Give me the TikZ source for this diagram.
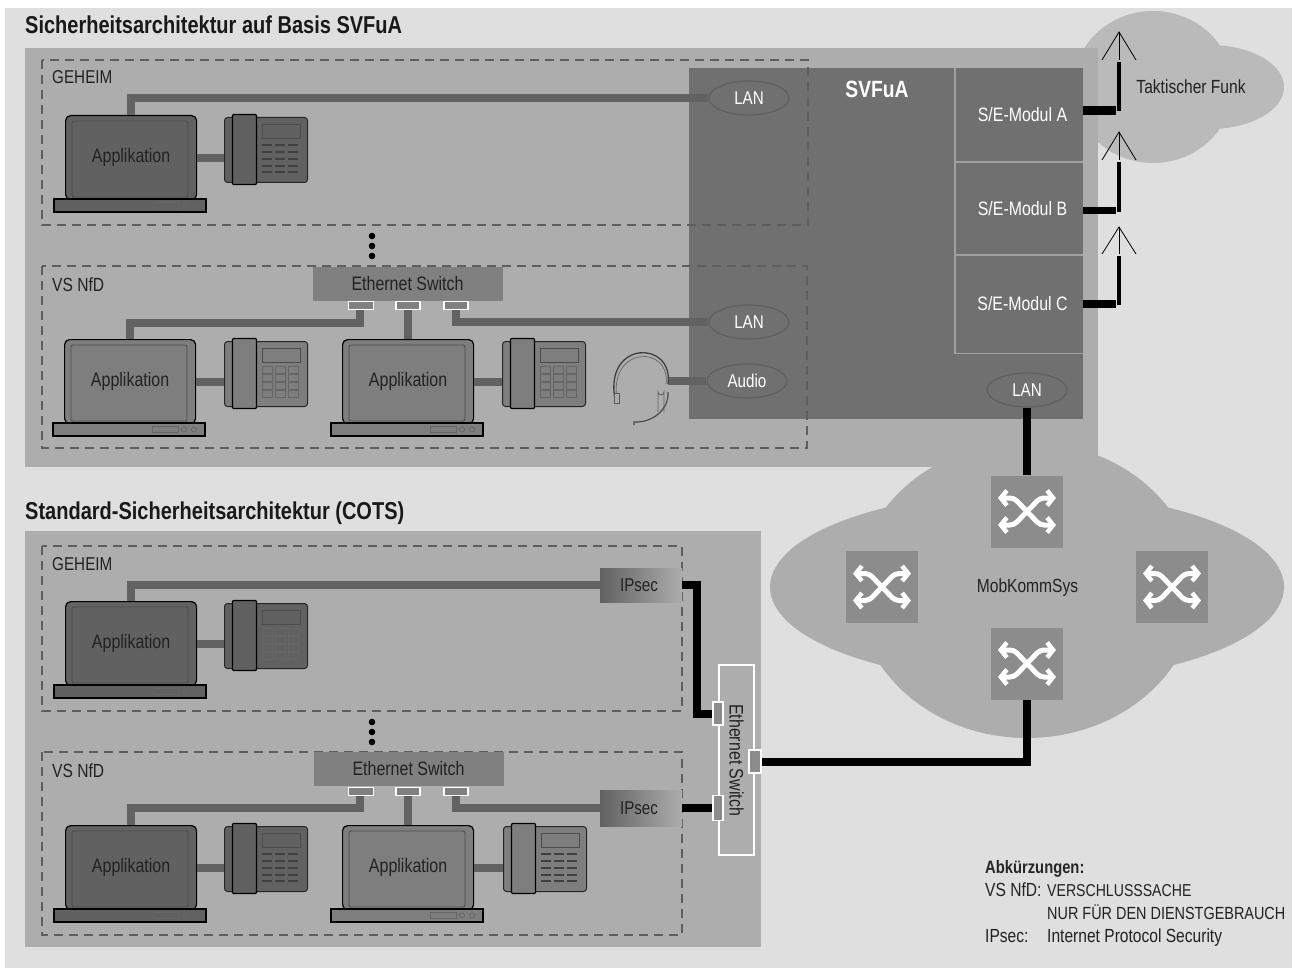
\documentclass[tikz,border=0pt]{standalone}
\usepackage{fontspec}
\setmainfont[FakeStretch=0.82]{Liberation Sans}
\usetikzlibrary{shapes.geometric,arrows.meta,calc}
\definecolor{bgc}{HTML}{DFDFDF}
\definecolor{panelc}{HTML}{ADADAD}
\definecolor{svc}{HTML}{707070}
\definecolor{cab}{HTML}{626262}
\definecolor{dashc}{HTML}{5E5E5E}
\definecolor{inkc}{HTML}{222222}
\definecolor{lapdark}{HTML}{616161}
\definecolor{lapmid}{HTML}{7E7E7E}
\definecolor{swc}{HTML}{808080}
\definecolor{icoc}{HTML}{8C8C8C}
\definecolor{modline}{HTML}{A0A0A0}
\tikzset{
  cable/.style={draw=cab,line width=8pt},
  wire/.style={draw=black,line width=8pt},
  zone/.style={draw=dashc,line width=1.2pt,dash pattern=on 9pt off 6pt},
  lbl/.style={font=\fontsize{19}{21}\selectfont,text=inkc,inner sep=0pt},
  caps/.style={font=\fontsize{17.2}{19}\selectfont,text=inkc,inner sep=0pt},
  lapbody/.style={draw=black,line width=1.2pt,rounded corners=5pt,minimum width=131pt,minimum height=84pt,inner sep=0pt,font=\fontsize{19.5}{21}\selectfont,text=inkc},
  phonebody/.style={draw=black!85,line width=1pt,rounded corners=3pt,minimum width=83pt,minimum height=65pt,inner sep=0pt},
  swbar/.style={fill=swc,minimum width=190pt,minimum height=34pt,inner sep=0pt,font=\fontsize{19.5}{21}\selectfont,text=inkc},
  hport/.style={draw=white,line width=1.1pt,fill=swc,minimum height=8pt,inner sep=0pt},
  vport/.style={draw=white,line width=1.1pt,fill=icoc,minimum width=10pt,inner sep=0pt},
  lan/.style={ellipse,draw=dashc,line width=1.1pt,fill=svc,minimum width=80pt,minimum height=34pt,inner sep=0pt,text=white,font=\fontsize{18.5}{20}\selectfont},
  modbox/.style={fill=svc,minimum width=128pt,inner sep=0pt,text=white,font=\fontsize{19.4}{21}\selectfont},
  modrule/.style={draw=modline,line width=1.4pt},
  ipsec/.style={left color=black!62,right color=panelc,minimum width=82pt,inner sep=0pt,font=\fontsize{18.5}{20}\selectfont,text=inkc},
  swsq/.style={fill=icoc,minimum size=72pt,inner sep=0pt},
  icoarrow/.style={draw=white,line width=5pt,rounded corners=4pt,arrows={{Straight Barb[length=6pt,width=15pt,line width=4.5pt]}-{Straight Barb[length=6pt,width=15pt,line width=4.5pt]}}},
  dotm/.style={fill=black},
}
% laptop: name, left x of the lid, top y, fill
\newcommand{\laptopicon}[4]{%
  \node[lapbody,fill=#4,anchor=north west] (#1) at (#2,#3) {Applikation};
  \begin{scope}[shift={(#2,#3)}]
    \draw[draw=black!70,line width=.9pt,rounded corners=2pt] (7,6) rectangle (123,82);
    \draw[draw=black,line width=1.2pt,fill=#4] (-11,84) rectangle (141,97);
    \draw[draw=black!60,line width=.8pt,fill=#4] (88,87) rectangle (114,93);
    \draw[draw=black!60,line width=.7pt] (120,90.5) circle (2.6pt) (130,90.5) circle (2.6pt);
  \end{scope}}
% phone: name, x, y, fill, variant (0 grid, 1 stripes)
\newcommand{\phoneicon}[5]{%
  \node[phonebody,fill=#4,anchor=north west] (#1) at (#2,{#3+3}) {};
  \begin{scope}[shift={(#2,#3)}]
    \draw[draw=black,line width=1.1pt,fill=#4,rounded corners=1pt] (8.5,0.5) rectangle (32.5,70.5);
    \draw[draw=black!70,line width=.8pt] (38,10) rectangle (76,24);
    \ifnum#5=0
      \foreach \kx in {38,51,64}\foreach \ky in {28,36,44,52}
        \draw[draw=black!60,line width=.6pt] (\kx,\ky) rectangle ++(10,7);
    \else
      \foreach \kx in {38,51,64}\foreach \ky in {31,38,45,52,58}
        \draw[draw=black!75,line width=1.5pt] (\kx,\ky) -- ++(10,0);
    \fi
  \end{scope}}
% crossed arrows inside a switch square
\newcommand{\crossicon}[1]{%
  \begin{scope}[shift={(#1.center)}]
    \draw[icoarrow] (-29,-13.5) -- (-13,-13.5) -- (13,13.5) -- (29,13.5);
    \draw[icoarrow] (-29,13.5) -- (-13,13.5) -- (13,-13.5) -- (29,-13.5);
  \end{scope}}
% antenna: x, tip y, leg y, thick-part bottom y
\newcommand{\antenna}[4]{%
  \draw[black,line width=.8pt] (#1-17,#3) -- (#1,#2) -- (#1+17,#3);
  \draw[black,line width=1pt] (#1,#2) -- (#1,#3);
  \draw[black,line width=3.6pt] (#1,#3+2) -- (#1,#4);}
\begin{document}
\begin{tikzpicture}[x=1pt,y=-1pt]
\useasboundingbox (0,0) rectangle (1292,968);
\fill[white] (0,0) rectangle (1292,968);
\fill[bgc] (5,8) rectangle (1292,968);
% clouds
\fill[black!27] (1153,87) circle [x radius=80,y radius=76];
\fill[black!27] (1210,87) circle [x radius=74,y radius=42];
\fill[panelc] (1027,590) circle [x radius=170,y radius=148];
\fill[panelc] (1027,587) circle [x radius=257,y radius=95];
% panels
\fill[panelc] (25,48) rectangle (1098,467);
\fill[panelc] (25,531) rectangle (761,947);
% SVFuA block
\fill[svc] (689,68) rectangle (1083,419);
% security zones
\draw[zone] (42,60) rectangle (808,225);
\draw[zone] (42,266) rectangle (807,448);
\draw[zone] (42,546) rectangle (682,711);
\draw[zone] (42,752) rectangle (682,935);
% titles
\node[anchor=base west,inner sep=0pt,font=\bfseries\fontsize{24.4}{26}\selectfont,text=black!90] (t1) at (25,34) {Sicherheitsarchitektur auf Basis SVFuA};
\node[anchor=base west,inner sep=0pt,font=\bfseries\fontsize{24.4}{26}\selectfont,text=black!90] (t2) at (25,519) {Standard-Sicherheitsarchitektur (COTS)};
\node[lbl,anchor=base west,font=\fontsize{18.6}{20}\selectfont] (z1) at (52,84) {GEHEIM};
\node[lbl,anchor=base west] (z2) at (52,291) {VS NfD};
\node[lbl,anchor=base west,font=\fontsize{18.6}{20}\selectfont] (z3) at (52,570) {GEHEIM};
\node[lbl,anchor=base west] (z4) at (52,777) {VS NfD};
\node[anchor=center,inner sep=0pt,text=white,font=\bfseries\fontsize{23.5}{25}\selectfont] (sv) at (877,89) {SVFuA};
\node[modbox,minimum height=94pt] (moda) at (1019,115) {\hspace*{7pt}\raisebox{1pt}{S/E-Modul A}};
\node[modbox,minimum height=93pt] (modb) at (1019,208.5) {\hspace*{7pt}S/E-Modul B};
\node[modbox,minimum height=98pt] (modc) at (1019,304) {\hspace*{7pt}\raisebox{2pt}{S/E-Modul C}};
\draw[modrule] (moda.north west) -- (modc.south west) -- (modc.south east);
\draw[modrule] (moda.south west) -- (moda.south east);
\draw[modrule] (modb.south west) -- (modb.south east);
\node[lan] (lan1) at (749,98) {LAN};
\node[lan] (lan2) at (749,322) {LAN};
\node[lan] (aud) at (747,381) {Audio};
\node[lan] (lan3) at (1027,390) {LAN};
% laptops and phones
\laptopicon{la}{65}{115}{lapdark}
\phoneicon{pa}{224}{114}{lapdark}{1}
\laptopicon{lb}{64}{339}{lapmid}
\phoneicon{pb}{224}{338}{lapmid}{0}
\laptopicon{lc}{342}{339}{lapmid}
\phoneicon{pc}{502}{338}{lapmid}{0}
\laptopicon{ld}{65}{601}{lapdark}
\phoneicon{pd}{224}{600}{lapdark}{0}
\laptopicon{le}{65}{825}{lapdark}
\phoneicon{pe}{224}{823}{lapdark}{1}
\laptopicon{lf}{342}{825}{lapmid}
\phoneicon{pf}{503}{823}{lapmid}{1}
% ethernet switches
\node[swbar] (swa) at (407.5,283.5) {Ethernet Switch};
\node[hport,minimum width=25pt] (pa1) at (361,305.5) {};
\node[hport,minimum width=24pt] (pa2) at (408,305.5) {};
\node[hport,minimum width=24pt] (pa3) at (456,305.5) {};
\node[swbar] (swb) at (408.5,769) {Ethernet Switch};
\node[hport,minimum width=25pt] (pb1) at (361,791.5) {};
\node[hport,minimum width=24pt] (pb2) at (408,791.5) {};
\node[hport,minimum width=24pt] (pb3) at (456,791.5) {};
% IPsec
\node[ipsec,minimum height=34pt] (ip1) at (641,585) {IPsec\hspace*{4pt}};
\node[ipsec,minimum height=36pt] (ip2) at (641,808) {IPsec\hspace*{4pt}};
% vertical switch
\node[draw=white,line width=1.1pt,fill=panelc,rotate=-90,minimum width=190pt,minimum height=35pt,inner sep=0pt,font=\fontsize{19.5}{21}\selectfont,text=inkc] (swv) at (736.5,760) {Ethernet Switch};
\node[vport,minimum height=23pt] (va) at (718,713.5) {};
\node[vport,minimum height=25pt] (vb) at (718,808) {};
\node[vport,minimum width=12pt,minimum height=23pt] (vc) at (755,761.5) {};
% cables
\draw[cable] (la.north) |- (lan1.west);
\draw[cable] (la.east) -- (la.east -| pa.west);
\draw[cable] (lb.north) |- (360,322.5) -- (pa1.south -| 360,0);
\draw[cable] (lb.east) -- (lb.east -| pb.west);
\draw[cable] (lc.north) -- (lc.north |- pa2.south);
\draw[cable] (lc.east) -- (lc.east -| pc.west);
\draw[cable] (pa3.south) |- (lan2.west);
\draw[cable] (ld.north) |- (ip1.west);
\draw[cable] (ld.east) -- (ld.east -| pd.west);
\draw[cable] (le.north) |- (360,808) -- (pb1.south -| 360,0);
\draw[cable] (le.east) -- (le.east -| pe.west);
\draw[cable] (lf.north) -- (lf.north |- pb2.south);
\draw[cable] (lf.east) -- (lf.east -| pf.west);
\draw[cable] (pb3.south) |- (ip2.west);
% headset
\coordinate (hs) at (668,381);
\draw[cable] (hs) -- (aud.west);
\draw[black!75,line width=1.3pt] (615,399) .. controls (604,340) and (674,340) .. (668,384);
\draw[black!60,line width=.7pt] (617,400) .. controls (608,345) and (671,345) .. (666,384);
\draw[black!65,line width=1pt,fill=panelc] (614,393) rectangle (619,403);
\draw[black!60,line width=.9pt] (658,412) -- (658,392) arc (180:0:3) -- (664,412);
\draw[black!70,line width=1.2pt] (668,392) .. controls (669,410) and (652,423) .. (634,422) -- (634,425);
% antennas and radio links
\antenna{1119}{32}{60}{111}
\antenna{1119}{132}{160}{212}
\antenna{1119}{227}{254}{305}
\draw[wire,line width=9pt] (moda.east |- 0,110.5) -- (1116,110.5);
\draw[wire,line width=7.5pt] (modb.east |- 0,210.5) -- (1116,210.5);
\draw[wire] (modc.east |- 0,304) -- (1116,304);
% switches network
\node[swsq] (s1) at (1027,511.5) {};
\node[swsq] (s2) at (882,587) {};
\node[swsq] (s3) at (1172,587) {};
\node[swsq] (s4) at (1027,663.5) {};
\crossicon{s1}\crossicon{s2}\crossicon{s3}\crossicon{s4}
\node[lbl] (mk) at (1027.5,588) {MobKommSys};
\node[lbl] (tf) at (1191,87) {Taktischer Funk};
% black links
\draw[wire] (lan3.south) -- (s1.north);
\draw[wire] (ip1.east) -- ++(15,0) |- (va.west);
\draw[wire] (ip2.east) -- (vb.west);
\draw[wire] (vc.east) -| (s4.south);
% dots
\foreach \dy in {236,246,256,722,732,742} \fill[dotm] (372,\dy) circle (3.3pt);
% legend
\node[anchor=base west,inner sep=0pt,font=\bfseries\fontsize{18}{20}\selectfont,text=black!85] (lg) at (985,873) {Abkürzungen:};
\node[lbl,anchor=base west] (lg1) at (985,896) {VS NfD:};
\node[caps,anchor=base west] (lg1b) at (1047,896) {VERSCHLUSSSACHE};
\node[caps,anchor=base west,font=\fontsize{17.6}{19}\selectfont] (lg2) at (1047,919) {NUR FÜR DEN DIENSTGEBRAUCH};
\node[lbl,anchor=base west] (lg3) at (985,942) {IPsec:};
\node[lbl,anchor=base west] (lg3b) at (1047,942) {Internet Protocol Security};
\end{tikzpicture}
\end{document}
